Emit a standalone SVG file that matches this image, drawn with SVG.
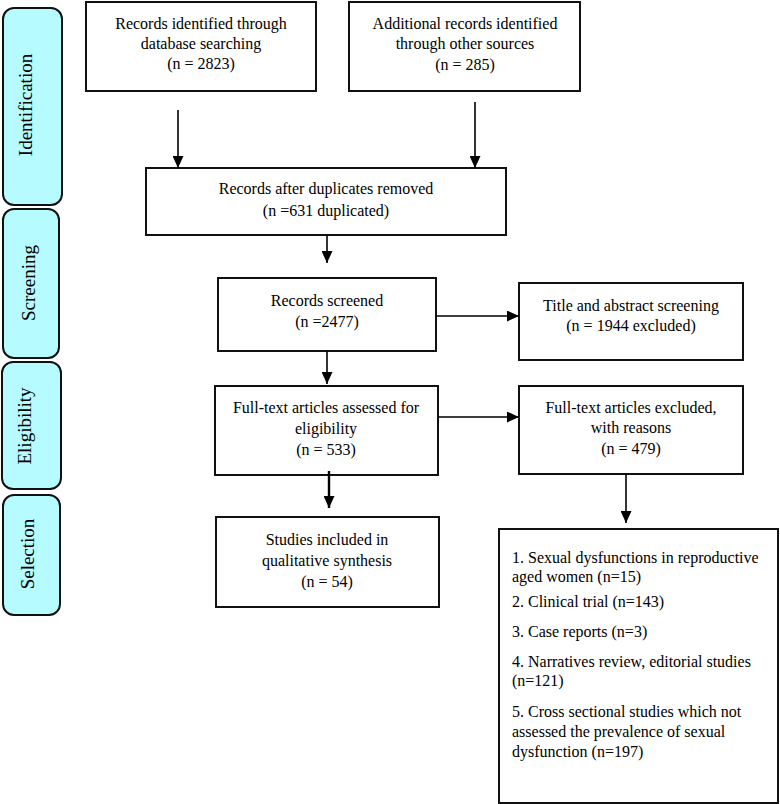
<svg xmlns="http://www.w3.org/2000/svg" width="780" height="804" viewBox="0 0 780 804">
<defs>
<marker id="ah" markerUnits="userSpaceOnUse" markerWidth="12" markerHeight="11" refX="12" refY="5.5" orient="auto">
<path d="M0,0 L12,5.5 L0,11 z" fill="#000"/>
</marker>
</defs>
<style>
.tab{fill:#b5fbff;stroke:#111;stroke-width:2}
.box{fill:#fff;stroke:#111;stroke-width:2}
.c{text-anchor:middle}
.tt{font-size:19px;text-anchor:middle}
.ln{stroke:#000;stroke-width:1.6;fill:none;marker-end:url(#ah)}
</style>
<rect width="780" height="804" fill="#fff"/>
<g font-family="Liberation Serif, Times New Roman, DejaVu Serif, serif" font-size="16" fill="#000">
<g id="tab-identification"><rect class="tab" x="3" y="8" width="59" height="197" rx="11"/><text class="tt" transform="translate(32,105) rotate(-90)">Identification</text></g>
<g id="tab-screening"><rect class="tab" x="3" y="209" width="56" height="149" rx="11"/><text class="tt" transform="translate(35,283) rotate(-90)">Screening</text></g>
<g id="tab-eligibility"><rect class="tab" x="2" y="362" width="59" height="127" rx="11"/><text class="tt" transform="translate(31,426) rotate(-90)">Eligibility</text></g>
<g id="tab-selection"><rect class="tab" x="3" y="495" width="57" height="120" rx="11"/><text class="tt" transform="translate(34,554) rotate(-90)">Selection</text></g>

<g id="n-database"><rect class="box" x="86" y="2" width="230" height="89"/>
<text class="c" x="201" y="29">Records identified through</text>
<text class="c" x="201" y="49">database searching</text>
<text class="c" x="201" y="69">(n = 2823)</text></g>

<g id="n-other"><rect class="box" x="349" y="2" width="231" height="89"/>
<text class="c" x="465" y="29">Additional records identified</text>
<text class="c" x="465" y="49">through other sources</text>
<text class="c" x="465" y="70">(n = 285)</text></g>

<g id="n-duplicates"><rect class="box" x="146" y="168" width="360" height="67"/>
<text class="c" x="326" y="194">Records after duplicates removed</text>
<text class="c" x="326" y="216">(n =631 duplicated)</text></g>

<g id="n-screened"><rect class="box" x="218" y="278" width="218" height="73"/>
<text class="c" x="327" y="306">Records screened</text>
<text class="c" x="327" y="327">(n =2477)</text></g>

<g id="n-title"><rect class="box" x="519" y="283" width="224" height="77"/>
<text class="c" x="631" y="311">Title and abstract screening</text>
<text class="c" x="631" y="331">(n = 1944 excluded)</text></g>

<g id="n-fulltext"><rect class="box" x="215" y="386" width="223" height="89"/>
<text class="c" x="326" y="413">Full-text articles assessed for</text>
<text class="c" x="326" y="434">eligibility</text>
<text class="c" x="326" y="455">(n = 533)</text></g>

<g id="n-excluded"><rect class="box" x="519" y="386" width="224" height="88"/>
<text class="c" x="631" y="413">Full-text articles excluded,</text>
<text class="c" x="631" y="433">with reasons</text>
<text class="c" x="631" y="454">(n = 479)</text></g>

<g id="n-included"><rect class="box" x="216" y="517" width="223" height="90"/>
<text class="c" x="327" y="545">Studies included in</text>
<text class="c" x="327" y="566">qualitative synthesis</text>
<text class="c" x="327" y="587">(n = 54)</text></g>

<g id="n-reasons"><rect class="box" x="499" y="529" width="279" height="274"/>
<text x="512" y="563">1. Sexual dysfunctions in reproductive</text>
<text x="512" y="582">aged women (n=15)</text>
<text x="512" y="607">2. Clinical trial (n=143)</text>
<text x="512" y="637">3. Case reports (n=3)</text>
<text x="512" y="667">4. Narratives review, editorial studies</text>
<text x="512" y="686">(n=121)</text>
<text x="512" y="717">5. Cross sectional studies which not</text>
<text x="512" y="737">assessed the prevalence of sexual</text>
<text x="512" y="757">dysfunction (n=197)</text></g>
</g>

<g id="connectors">
<line class="ln" x1="178" y1="110" x2="178" y2="168"/>
<line class="ln" x1="475" y1="102" x2="475" y2="168"/>
<line class="ln" x1="327" y1="235" x2="327" y2="263"/>
<line class="ln" x1="436" y1="316" x2="519" y2="316"/>
<line class="ln" x1="327" y1="351" x2="327" y2="384"/>
<line class="ln" x1="438" y1="417" x2="519" y2="417"/>
<line class="ln" style="stroke-width:2.4" x1="329" y1="471" x2="329" y2="508"/>
<line class="ln" x1="626" y1="474" x2="626" y2="523"/>
</g>
</svg>
